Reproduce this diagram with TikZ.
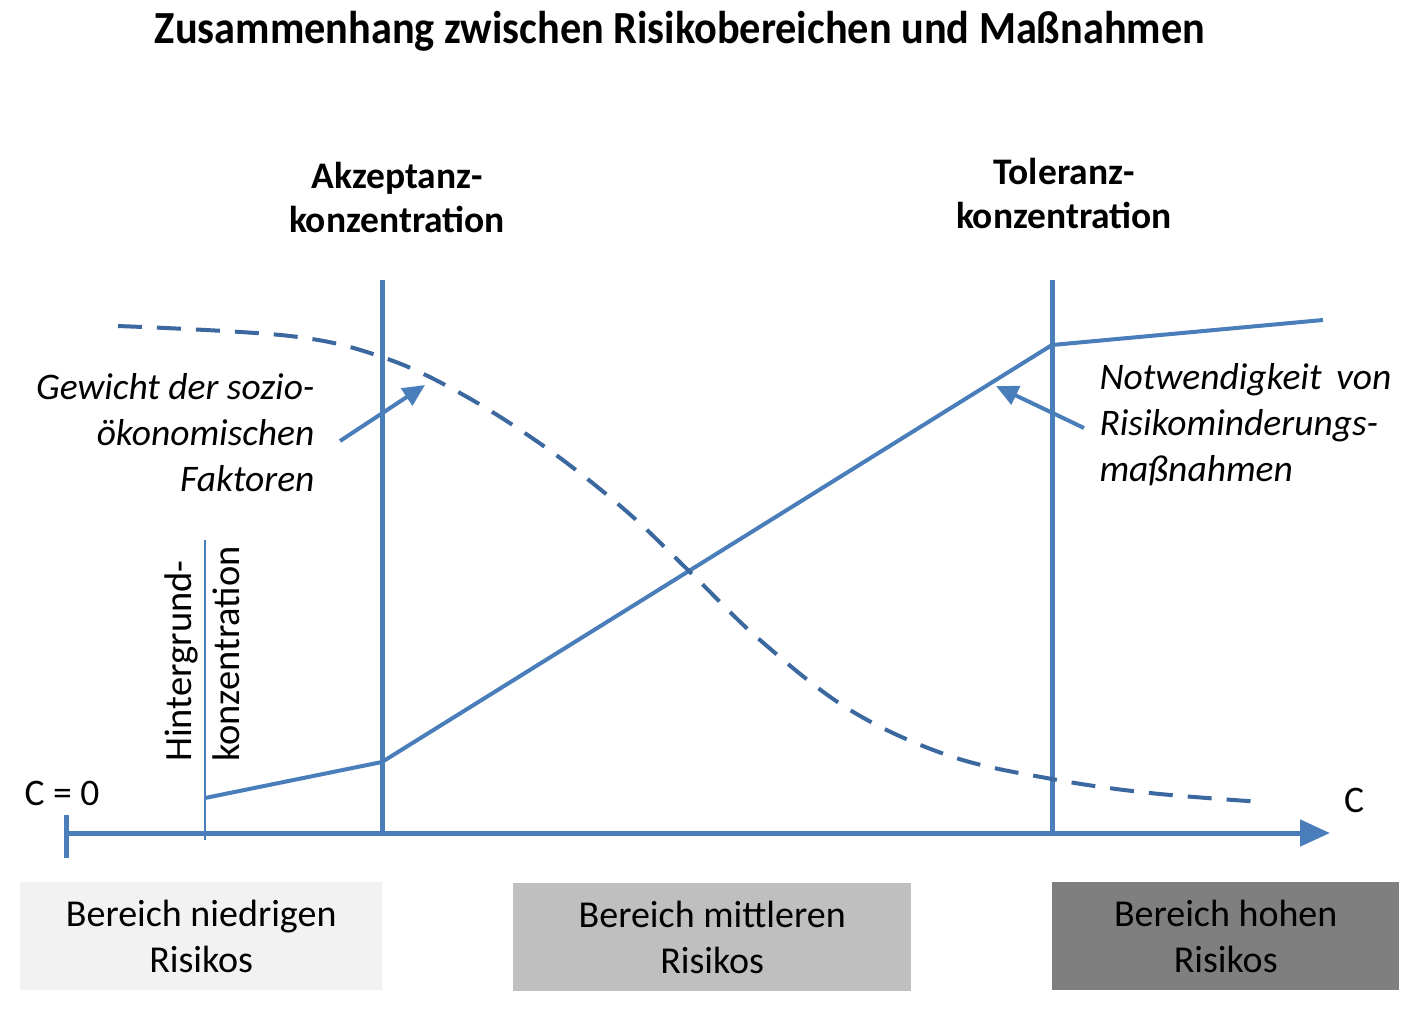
\documentclass[tikz,border=0pt]{standalone}
\usepackage{fontspec}
\setmainfont{Carlito}
\usetikzlibrary{arrows.meta}
\definecolor{lb}{RGB}{74,126,187}
\definecolor{db}{RGB}{60,104,160}
\definecolor{g1}{RGB}{242,242,242}
\definecolor{g2}{RGB}{191,191,191}
\definecolor{g3}{RGB}{127,127,127}
\tikzset{
  thickline/.style={lb,line width=5pt},
  curve/.style={lb,line width=4pt},
  dashcurve/.style={db,line width=4pt,dash pattern=on 24pt off 15pt},
  pointer/.style={lb,line width=4pt,-{Triangle[length=22pt,width=20pt]}},
  regionbox/.style={minimum width=#1,minimum height=108pt,inner sep=0pt,align=center,font=\fontsize{38}{46}\selectfont},
  boldlabel/.style={align=center,font=\bfseries\fontsize{37.5}{44}\selectfont},
  itlabel/.style={font=\itshape\fontsize{37.5}{46}\selectfont},
  plain/.style={font=\fontsize{37.5}{40}\selectfont},
}
\begin{document}
\begin{tikzpicture}[x=1pt,y=-1pt]
\useasboundingbox (0,0) rectangle (1414,1014);
% title
\node[font=\bfseries\fontsize{46}{50}\selectfont,xscale=0.92] (title) at (680,31) {Zusammenhang zwischen Risikobereichen und Maßnahmen};
% axis
\coordinate (a0) at (66,833);
\coordinate (a1) at (1330,833);
\draw[lb,line width=5pt,-{Triangle[length=30pt,width=26pt]}] (a0) -- (a1);
\coordinate (t0) at (66,815);
\coordinate (t1) at (66,858);
\draw[lb,line width=5pt] (t0) -- (t1);
% verticals
\coordinate (v1t) at (382,280); \coordinate (v1b) at (382,836);
\coordinate (v2t) at (1052,280); \coordinate (v2b) at (1052,836);
\draw[thickline] (v1t) -- (v1b);
\draw[thickline] (v2t) -- (v2b);
\coordinate (h0) at (205,540); \coordinate (h1) at (205,840);
\draw[lb,line width=1.5pt] (h0) -- (h1);
% solid curve
\coordinate (p0) at (205,798);
\coordinate (p1) at (382,762);
\coordinate (p2) at (1052,345);
\coordinate (p3) at (1323,320);
\draw[curve,line join=round] (p0) -- (p1) -- (p2) -- (p3);
% dashed curve
\draw[dashcurve] plot[smooth,tension=0.6] coordinates {(118,326) (290,336) (382,357) (460,393) (545,447) (625,510) (690,572) (760,640) (850,710) (950,756) (1052,779) (1150,793) (1262,802)};
% pointers
\coordinate (q0) at (340,441); \coordinate (q1) at (425,385);
\draw[pointer] (q0) -- (q1);
\coordinate (r0) at (1084,428); \coordinate (r1) at (996,386);
\draw[pointer] (r0) -- (r1);
% labels
\node[boldlabel] (akz) at (397,197) {Akzeptanz-\\konzentration};
\node[boldlabel] (tol) at (1064,193) {Toleranz-\\konzentration};
\node[itlabel,align=right,anchor=east] (gew) at (318,433) {Gewicht der sozio-\\ökonomischen\\Faktoren};
\node[itlabel,align=left,anchor=west] (not) at (1096,425) {Notwendigkeit\, von\\Risikominderungs-\\maßnahmen};
\node[font=\fontsize{38.5}{48}\selectfont,rotate=90,anchor=south west,align=left,inner sep=0pt] (hint) at (240,762) {Hintergrund-\\konzentration};
\node[plain] (c0) at (62,793) {C = 0};
\node[plain] (c) at (1354,800) {C};
% region boxes
\node[regionbox=362pt,fill=g1,anchor=north west] (r1b) at (20,882) {Bereich niedrigen\\Risikos};
\node[regionbox=398pt,fill=g2,anchor=north west] (r2b) at (513,883) {Bereich mittleren\\Risikos};
\node[regionbox=347pt,fill=g3,anchor=north west] (r3b) at (1052,882) {Bereich hohen\\Risikos};
\end{tikzpicture}
\end{document}
